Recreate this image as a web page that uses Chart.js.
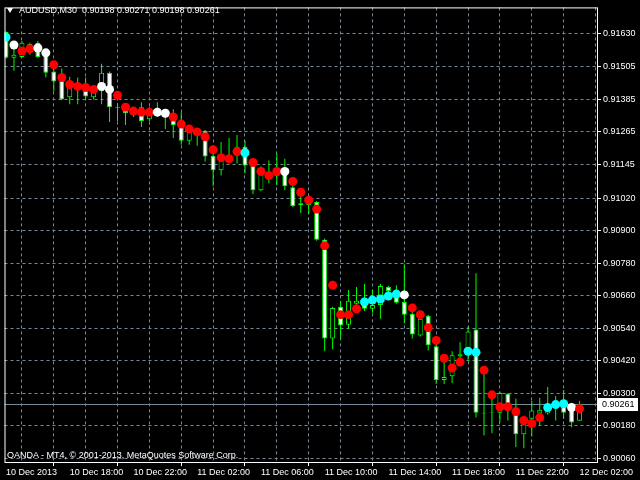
<!DOCTYPE html>
<html>
<head>
<meta charset="utf-8">
<title>AUDUSD,M30</title>
<script src="https://cdn.jsdelivr.net/npm/chart.js@4.4.0/dist/chart.umd.min.js"></script>
<style>
  body { margin: 0; background: #000; }
  #wrap { position: relative; width: 640px; height: 480px; background: #000; }
  #title { position: absolute; left: 19px; top: 5px; color: #fff; font: 9px/11px "Liberation Sans", sans-serif; white-space: pre; }
  #tri { position: absolute; left: 7px; top: 8px; width: 0; height: 0;
         border-left: 3px solid transparent; border-right: 3px solid transparent; border-top: 5px solid #fff; }
  #copy { position: absolute; left: 7px; top: 450px; color: #fff; font: 9px/11px "Liberation Sans", sans-serif; white-space: pre; }
</style>
</head>
<body>
<div id="wrap">
  <canvas id="myChart" width="640" height="480"></canvas>
  <div id="tri"></div>
  <div id="title">AUDUSD,M30  0.90198 0.90271 0.90198 0.90261</div>
  <div id="copy">OANDA - MT4, © 2001-2013, MetaQuotes Software Corp.</div>
</div>
<script>
// M30 bars, 10 Dec 14:00 .. 12 Dec 02:00
const opens = [0.91634,0.91539,0.91542,0.91575,0.91594,0.91561,0.91488,0.91466,0.91393,0.91433,
  0.91440,0.91393,0.91415,0.91484,0.91356,0.91349,0.91345,0.91356,0.91312,0.91342,
  0.91338,0.91309,0.91294,0.91232,0.91265,0.91269,0.91177,0.91123,0.91166,0.91177,
  0.91210,0.91156,0.91050,0.91108,0.91101,0.91130,0.91061,0.90995,0.90995,0.91006,
  0.90867,0.90502,0.90619,0.90553,0.90630,0.90630,0.90612,0.90626,0.90692,0.90663,
  0.90637,0.90593,0.90513,0.90586,0.90473,0.90349,0.90363,0.90436,0.90455,0.90535,
  0.90228,0.90228,0.90228,0.90298,0.90225,0.90148,0.90206,0.90225,0.90225,0.90258,
  0.90254,0.90254,0.90198];
const highs = [0.91637,0.91601,0.91601,0.91594,0.91601,0.91568,0.91502,0.91499,0.91469,0.91466,
  0.91466,0.91426,0.91517,0.91488,0.91371,0.91356,0.91353,0.91375,0.91356,0.91375,
  0.91342,0.91349,0.91338,0.91276,0.91272,0.91272,0.91199,0.91228,0.91243,0.91254,
  0.91232,0.91163,0.91137,0.91159,0.91185,0.91166,0.91072,0.91028,0.91031,0.91010,
  0.90871,0.90619,0.90641,0.90681,0.90692,0.90703,0.90681,0.90703,0.90696,0.90699,
  0.90776,0.90619,0.90593,0.90590,0.90498,0.90433,0.90455,0.90488,0.90546,0.90743,
  0.90396,0.90301,0.90305,0.90301,0.90280,0.90206,0.90272,0.90283,0.90323,0.90290,
  0.90312,0.90265,0.90271];
const lows = [0.91535,0.91491,0.91539,0.91550,0.91539,0.91466,0.91415,0.91382,0.91367,0.91367,
  0.91382,0.91385,0.91367,0.91302,0.91305,0.91291,0.91320,0.91283,0.91305,0.91320,
  0.91276,0.91243,0.91218,0.91218,0.91214,0.91156,0.91064,0.91104,0.91148,0.91148,
  0.91112,0.91035,0.91046,0.91075,0.91068,0.91050,0.90988,0.90966,0.90962,0.90863,
  0.90455,0.90462,0.90502,0.90539,0.90601,0.90604,0.90597,0.90575,0.90666,0.90630,
  0.90557,0.90502,0.90509,0.90458,0.90334,0.90334,0.90338,0.90400,0.90418,0.90210,
  0.90144,0.90152,0.90192,0.90199,0.90101,0.90097,0.90141,0.90181,0.90221,0.90199,
  0.90206,0.90174,0.90198];
const closes = [0.91539,0.91550,0.91594,0.91590,0.91542,0.91484,0.91451,0.91385,0.91440,0.91429,
  0.91396,0.91415,0.91484,0.91356,0.91353,0.91334,0.91338,0.91305,0.91331,0.91334,
  0.91331,0.91291,0.91232,0.91265,0.91254,0.91174,0.91123,0.91166,0.91163,0.91210,
  0.91141,0.91050,0.91115,0.91101,0.91112,0.91064,0.90991,0.91002,0.91010,0.90867,
  0.90502,0.90615,0.90550,0.90641,0.90641,0.90612,0.90626,0.90696,0.90677,0.90634,
  0.90590,0.90517,0.90575,0.90477,0.90349,0.90360,0.90440,0.90444,0.90528,0.90228,
  0.90225,0.90230,0.90301,0.90261,0.90148,0.90185,0.90236,0.90239,0.90236,0.90254,
  0.90228,0.90192,0.90261];
// indicator dots: value and state (c = up, w = flat, r = down)
const dots = [0.91615,0.91586,0.91564,0.91572,0.91575,0.91557,0.91513,0.91466,0.91440,0.91433,
  0.91429,0.91422,0.91433,0.91422,0.91400,0.91356,0.91342,0.91338,0.91338,0.91338,
  0.91334,0.91320,0.91294,0.91276,0.91265,0.91247,0.91199,0.91170,0.91166,0.91192,
  0.91188,0.91152,0.91119,0.91104,0.91119,0.91119,0.91082,0.91042,0.91013,0.90980,
  0.90845,0.90699,0.90590,0.90590,0.90612,0.90637,0.90644,0.90648,0.90659,0.90666,
  0.90663,0.90615,0.90590,0.90542,0.90495,0.90429,0.90393,0.90415,0.90455,0.90451,
  0.90385,0.90294,0.90250,0.90250,0.90232,0.90199,0.90188,0.90210,0.90247,0.90258,
  0.90261,0.90247,0.90243];
const dotState = ('cwrrwwrrrr' + 'rrwwrrrrrw' + 'wrrrrrrrrr' + 'crrrrwrrrr' + 'rrrrrccccc' +
  'wrrrrrrrcc' + 'rrrrrrrrcc' + 'cwr').split('');
const timeLabels = ['10 Dec 2013','10 Dec 18:00','10 Dec 22:00','11 Dec 02:00','11 Dec 06:00',
  '11 Dec 10:00','11 Dec 14:00','11 Dec 18:00','11 Dec 22:00','12 Dec 02:00'];
const priceTicks = ['0.91630','0.91505','0.91385','0.91265','0.91145','0.91020','0.90900',
  '0.90780','0.90660','0.90540','0.90420','0.90300','0.90180','0.90060'];

const green = '#00ff00';
const gridCol = '#778899';
const stateCol = { c: '#00ffff', w: '#ffffff', r: '#ff0000' };
const idx = opens.map((o, i) => i);
const lastClose = closes[closes.length - 1];

Chart.defaults.font.family = 'Liberation Sans';
Chart.defaults.font.size = 9;

const mt4Frame = {
  id: 'mt4Frame',
  beforeDatasetsDraw(chart) {
    const c = chart.ctx, a = chart.chartArea;
    const py = Math.round(chart.scales.y.getPixelForValue(lastClose)) + 0.5;
    c.save();
    c.strokeStyle = gridCol;
    c.lineWidth = 1;
    c.beginPath();
    c.moveTo(a.left, py);
    c.lineTo(a.right, py);
    c.stroke();
    c.restore();
  },
  afterDraw(chart) {
    const c = chart.ctx, a = chart.chartArea;
    const py = Math.round(chart.scales.y.getPixelForValue(lastClose));
    c.save();
    c.strokeStyle = '#ffffff';
    c.lineWidth = 1;
    c.strokeRect(a.left + 0.5, a.top + 0.5, a.right - a.left - 1, a.bottom - a.top);
    c.fillStyle = '#ffffff';
    c.fillRect(a.right, py - 6, 40, 13);
    c.fillStyle = '#000000';
    c.font = '9px "Liberation Sans"';
    c.textBaseline = 'middle';
    c.fillText(lastClose.toFixed(5), a.right + 4, py + 0.5);
    c.restore();
  }
};

new Chart(document.getElementById('myChart'), {
  type: 'bar',
  data: {
    datasets: [
      {
        type: 'line',
        data: idx.map(i => ({ x: i, y: dots[i] })),
        showLine: false,
        pointRadius: 4.5,
        pointHoverRadius: 4.5,
        pointBorderWidth: 0,
        pointBackgroundColor: idx.map(i => stateCol[dotState[i]]),
        order: 0
      },
      {
        type: 'bar',
        data: idx.map(i => ({ x: i, y: [opens[i], closes[i]] })),
        backgroundColor: idx.map(i => closes[i] < opens[i] ? '#ffffff' : '#000000'),
        borderColor: green,
        borderWidth: 1,
        borderSkipped: false,
        barThickness: 5,
        grouped: false,
        inflateAmount: 0,
        order: 1
      },
      {
        type: 'bar',
        data: idx.map(i => ({ x: i, y: [lows[i], highs[i]] })),
        backgroundColor: green,
        borderWidth: 0,
        barThickness: 1,
        grouped: false,
        inflateAmount: 0,
        order: 2
      }
    ]
  },
  options: {
    responsive: false,
    animation: false,
    events: [],
    devicePixelRatio: 1,
    layout: { padding: { top: 2, left: 2, right: 0, bottom: 0 } },
    plugins: { legend: { display: false }, tooltip: { enabled: false } },
    scales: {
      x: {
        type: 'linear',
        min: -0.1875,
        max: 74.3125,
        offset: false,
        afterBuildTicks: s => {
          s.ticks = [];
          for (let i = 0; i <= 72; i += 4) s.ticks.push({ value: i });
        },
        afterFit: s => { s.height = 18; },
        ticks: {
          autoSkip: false,
          maxRotation: 0,
          align: 'start',
          color: '#ffffff',
          padding: 1,
          callback: v => (v % 8 === 0 ? timeLabels[v / 8] : '')
        },
        grid: {
          color: c => (c.index === 0 ? 'rgba(0,0,0,0)' : gridCol),
          tickColor: c => (c.index % 2 === 0 ? '#ffffff' : 'rgba(0,0,0,0)'),
          tickLength: 4,
          lineWidth: 1
        },
        border: { display: false, dash: [3, 3] }
      },
      y: {
        position: 'right',
        min: 0.900459,
        max: 0.917249,
        afterBuildTicks: s => { s.ticks = priceTicks.map(t => ({ value: parseFloat(t) })); },
        afterFit: s => { s.width = 42; },
        ticks: {
          color: '#ffffff',
          padding: 2,
          callback: v => v.toFixed(5)
        },
        grid: {
          color: gridCol,
          tickColor: '#ffffff',
          tickLength: 3,
          lineWidth: 1
        },
        border: { display: false, dash: [3, 3] }
      }
    }
  },
  plugins: [mt4Frame]
});
</script>
</body>
</html>
